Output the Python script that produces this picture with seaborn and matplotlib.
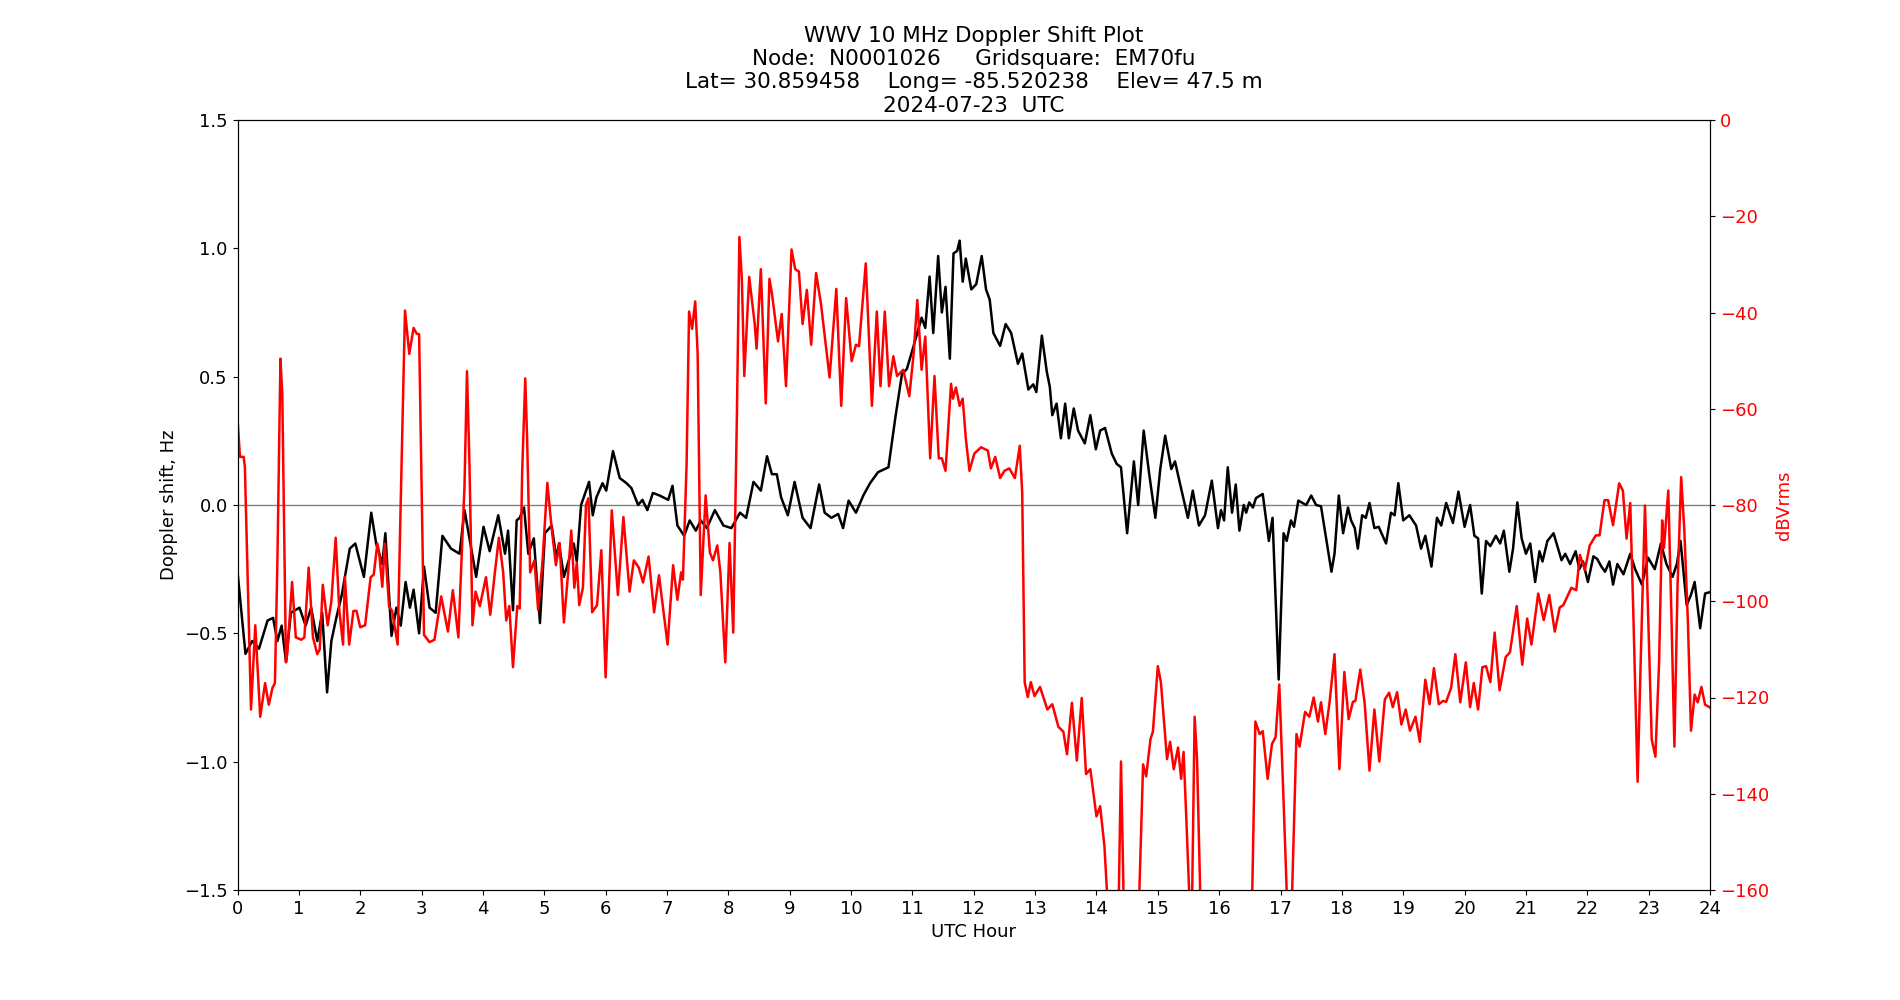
import matplotlib
matplotlib.use("Agg")
import matplotlib.pyplot as plt
import pandas as pd
import seaborn as sns

# ── data ──────────────────────────────────────────────────────────────────────
# Doppler shift (Hz) vs UTC hour
DOP_HOUR = [
    0.00, 0.13, 0.24, 0.35, 0.49, 0.58, 0.65, 0.72, 0.79, 0.87, 1.01, 1.11,
    1.20, 1.30, 1.38, 1.46, 1.53, 1.61, 1.70, 1.83, 1.92, 2.06, 2.18, 2.26,
    2.36, 2.41, 2.51, 2.59, 2.66, 2.74, 2.81, 2.87, 2.96, 3.04, 3.13, 3.23,
    3.34, 3.48, 3.62, 3.70, 3.89, 4.01, 4.11, 4.25, 4.36, 4.41, 4.49, 4.55,
    4.60, 4.67, 4.74, 4.83, 4.93, 5.01, 5.12, 5.20, 5.24, 5.32, 5.48, 5.53,
    5.60, 5.73, 5.79, 5.85, 5.95, 6.01, 6.12, 6.23, 6.34, 6.42, 6.53, 6.60,
    6.68, 6.77, 6.88, 7.02, 7.09, 7.17, 7.28, 7.37, 7.47, 7.55, 7.65, 7.78,
    7.92, 8.05, 8.19, 8.29, 8.41, 8.53, 8.63, 8.71, 8.79, 8.86, 8.97, 9.08,
    9.21, 9.34, 9.48, 9.57, 9.68, 9.79, 9.87, 9.96, 10.08, 10.20, 10.31,
    10.44, 10.61, 10.72, 10.83, 10.91, 11.02, 11.15, 11.21, 11.28, 11.34,
    11.42, 11.48, 11.54, 11.61, 11.67, 11.73, 11.77, 11.82, 11.87, 11.96,
    12.04, 12.13, 12.20, 12.26, 12.32, 12.43, 12.52, 12.61, 12.72, 12.79,
    12.89, 12.97, 13.02, 13.11, 13.19, 13.24, 13.28, 13.35, 13.42, 13.49,
    13.55, 13.63, 13.70, 13.81, 13.90, 13.99, 14.06, 14.14, 14.25, 14.33,
    14.40, 14.50, 14.61, 14.68, 14.77, 14.86, 14.96, 15.04, 15.12, 15.22,
    15.28, 15.36, 15.49, 15.57, 15.67, 15.77, 15.88, 15.98, 16.03, 16.08,
    16.14, 16.21, 16.27, 16.33, 16.40, 16.44, 16.49, 16.55, 16.60, 16.71,
    16.81, 16.87, 16.97, 17.05, 17.10, 17.17, 17.22, 17.29, 17.42, 17.50,
    17.58, 17.66, 17.73, 17.83, 17.88, 17.95, 18.02, 18.10, 18.15, 18.21,
    18.26, 18.33, 18.39, 18.45, 18.53, 18.60, 18.72, 18.80, 18.86, 18.92,
    19.00, 19.10, 19.21, 19.29, 19.36, 19.46, 19.55, 19.62, 19.70, 19.81,
    19.90, 20.00, 20.09, 20.16, 20.22, 20.28, 20.35, 20.42, 20.51, 20.58,
    20.64, 20.73, 20.79, 20.86, 20.93, 21.00, 21.07, 21.15, 21.22, 21.27,
    21.35, 21.45, 21.58, 21.64, 21.72, 21.81, 21.87, 21.93, 22.01, 22.10,
    22.16, 22.23, 22.29, 22.36, 22.42, 22.49, 22.59, 22.70, 22.78, 22.89,
    22.99, 23.10, 23.20, 23.29, 23.39, 23.46, 23.52, 23.62, 23.69, 23.75,
    23.84, 23.92, 23.99,
]
DOP_HZ = [
    -0.26, -0.58, -0.53, -0.56, -0.45, -0.44, -0.53, -0.47, -0.61, -0.42, -0.40, -0.47,
    -0.40, -0.53, -0.42, -0.73, -0.53, -0.44, -0.35, -0.17, -0.15, -0.28, -0.03, -0.15,
    -0.23, -0.11, -0.51, -0.40, -0.47, -0.30, -0.40, -0.33, -0.50, -0.24, -0.40, -0.42,
    -0.12, -0.17, -0.19, -0.02, -0.28, -0.085, -0.18, -0.04, -0.19, -0.10, -0.41, -0.06,
    -0.05, -0.01, -0.19, -0.13, -0.46, -0.11, -0.08, -0.21, -0.15, -0.28, -0.15, -0.22,
    0.00, 0.09, -0.04, 0.03, 0.085, 0.056, 0.21, 0.105, 0.085, 0.066, 0.00, 0.02,
    -0.02, 0.047, 0.037, 0.02, 0.075, -0.08, -0.12, -0.06, -0.10, -0.06, -0.09, -0.02,
    -0.08, -0.09, -0.03, -0.05, 0.09, 0.056, 0.19, 0.12, 0.12, 0.03, -0.04, 0.09,
    -0.05, -0.09, 0.08, -0.03, -0.05, -0.035, -0.09, 0.017, -0.03, 0.037, 0.085,
    0.128, 0.147, 0.337, 0.51, 0.53, 0.62, 0.73, 0.69, 0.89, 0.67,
    0.97, 0.75, 0.85, 0.57, 0.98, 0.99, 1.03, 0.87, 0.96, 0.84,
    0.86, 0.97, 0.84, 0.80, 0.67, 0.62, 0.705, 0.67, 0.55, 0.59,
    0.45, 0.47, 0.44, 0.66, 0.52, 0.46, 0.35, 0.395, 0.26, 0.395,
    0.26, 0.376, 0.29, 0.24, 0.35, 0.217, 0.29, 0.30, 0.20, 0.16,
    0.147, -0.11, 0.17, 0.00, 0.29, 0.12, -0.05, 0.14, 0.27, 0.14,
    0.17, 0.085, -0.05, 0.056, -0.08, -0.04, 0.095, -0.09, -0.02, -0.06,
    0.147, -0.03, 0.08, -0.10, 0.00, -0.03, 0.01, -0.01, 0.027, 0.043,
    -0.14, -0.05, -0.68, -0.11, -0.14, -0.06, -0.085, 0.017, 0.00, 0.037,
    0.00, -0.005, -0.11, -0.26, -0.19, 0.037, -0.11, -0.01, -0.06, -0.09,
    -0.17, -0.04, -0.05, 0.008, -0.09, -0.085, -0.15, -0.03, -0.04, 0.085,
    -0.06, -0.04, -0.08, -0.17, -0.12, -0.24, -0.05, -0.08, 0.008, -0.07,
    0.052, -0.085, 0.00, -0.12, -0.13, -0.345, -0.14, -0.16, -0.12, -0.15,
    -0.10, -0.26, -0.17, 0.01, -0.13, -0.19, -0.15, -0.30, -0.18, -0.22,
    -0.14, -0.11, -0.215, -0.19, -0.23, -0.18, -0.25, -0.22, -0.30, -0.20,
    -0.21, -0.24, -0.26, -0.22, -0.31, -0.23, -0.27, -0.19, -0.25, -0.31,
    -0.205, -0.25, -0.15, -0.23, -0.28, -0.23, -0.14, -0.39, -0.35, -0.30,
    -0.48, -0.345, -0.34,
]

# Received signal level (dBVrms) vs UTC hour; values below -160 run off the axis
PWR_HOUR = [
    0.00, 0.04, 0.10, 0.12, 0.16, 0.22, 0.29, 0.37, 0.45, 0.51, 0.57, 0.61,
    0.65, 0.70, 0.73, 0.79, 0.81, 0.89, 0.95, 1.04, 1.09, 1.16, 1.23, 1.30,
    1.34, 1.39, 1.47, 1.53, 1.60, 1.66, 1.72, 1.75, 1.82, 1.89, 1.94, 2.00,
    2.08, 2.17, 2.22, 2.28, 2.31, 2.36, 2.40, 2.47, 2.52, 2.61, 2.66, 2.73,
    2.80, 2.87, 2.92, 2.96, 3.02, 3.04, 3.13, 3.21, 3.32, 3.43, 3.51, 3.60,
    3.70, 3.74, 3.78, 3.83, 3.88, 3.95, 4.05, 4.12, 4.19, 4.26, 4.33, 4.38,
    4.43, 4.49, 4.56, 4.60, 4.64, 4.69, 4.72, 4.77, 4.84, 4.90, 4.97, 5.05,
    5.12, 5.19, 5.25, 5.32, 5.39, 5.44, 5.49, 5.53, 5.57, 5.63, 5.68, 5.72,
    5.78, 5.86, 5.93, 6.00, 6.10, 6.20, 6.29, 6.39, 6.46, 6.54, 6.61, 6.70,
    6.79, 6.87, 7.01, 7.10, 7.17, 7.23, 7.26, 7.32, 7.36, 7.41, 7.46, 7.50,
    7.55, 7.63, 7.70, 7.75, 7.82, 7.87, 7.95, 8.02, 8.08, 8.14, 8.18, 8.22,
    8.26, 8.34, 8.43, 8.46, 8.53, 8.61, 8.67, 8.71, 8.81, 8.87, 8.94, 9.03,
    9.09, 9.15, 9.21, 9.28, 9.35, 9.43, 9.51, 9.65, 9.76, 9.84, 9.92, 10.01,
    10.08, 10.13, 10.24, 10.34, 10.42, 10.48, 10.55, 10.62, 10.69, 10.75,
    10.85, 10.95, 11.02, 11.08, 11.15, 11.21, 11.29, 11.36, 11.43, 11.48,
    11.54, 11.63, 11.66, 11.71, 11.77, 11.82, 11.87, 11.93, 12.01, 12.12,
    12.23, 12.28, 12.35, 12.43, 12.50, 12.58, 12.67, 12.75, 12.79, 12.83,
    12.88, 12.93, 12.99, 13.08, 13.20, 13.28, 13.38, 13.46, 13.52, 13.60,
    13.68, 13.76, 13.83, 13.90, 14.00, 14.06, 14.13, 14.17, 14.22, 14.35,
    14.40, 14.44, 14.48, 14.65, 14.70, 14.76, 14.81, 14.88, 14.92, 15.00,
    15.05, 15.15, 15.20, 15.26, 15.33, 15.38, 15.42, 15.46, 15.51, 15.55,
    15.60, 15.64, 15.69, 15.74, 16.50, 16.54, 16.59, 16.66, 16.71, 16.79,
    16.86, 16.92, 16.98, 17.05, 17.10, 17.14, 17.19, 17.26, 17.31, 17.40,
    17.47, 17.54, 17.61, 17.66, 17.73, 17.80, 17.88, 17.96, 18.04, 18.11,
    18.18, 18.22, 18.30, 18.37, 18.45, 18.53, 18.61, 18.70, 18.77, 18.83,
    18.90, 18.97, 19.04, 19.11, 19.20, 19.27, 19.36, 19.43, 19.50, 19.58,
    19.65, 19.70, 19.78, 19.85, 19.93, 20.02, 20.09, 20.15, 20.22, 20.29,
    20.35, 20.42, 20.49, 20.57, 20.67, 20.74, 20.85, 20.94, 21.02, 21.09,
    21.20, 21.29, 21.38, 21.47, 21.55, 21.61, 21.74, 21.82, 21.88, 21.96,
    22.04, 22.14, 22.20, 22.28, 22.34, 22.42, 22.52, 22.58, 22.64, 22.70,
    22.75, 22.82, 22.87, 22.94, 22.99, 23.05, 23.11, 23.17, 23.22, 23.25,
    23.32, 23.37, 23.42, 23.47, 23.53, 23.58, 23.64, 23.69, 23.75, 23.80,
    23.86, 23.92, 23.99,
]
PWR_DB = [
    -62, -70, -70, -72, -92, -122.5, -105, -124, -117, -121.5, -118, -117,
    -92, -49.6, -57, -112.7, -111, -96, -107.5, -108, -107.5, -93, -107.5, -111,
    -110, -96.6, -105, -100, -86.8, -102, -109, -95, -109, -102, -102, -105.4,
    -105, -95, -94.5, -88, -90, -97, -88, -101, -102, -109, -79.6, -39.6,
    -48.6, -43.2, -44.4, -44.5, -92, -107, -108.5, -108, -99, -106.3, -97.7, -107.5,
    -76, -52.2, -71, -105, -98, -101, -95, -102.8, -94.6, -86.8, -94, -104,
    -101, -113.7, -101, -101.5, -73, -53.7, -66, -94, -91.5, -101.8, -92, -75.4,
    -84.8, -92.5, -87.9, -104.4, -94, -85.3, -97.2, -92, -100.8, -97.2, -80, -78.6,
    -102.3, -100.8, -89.4, -115.8, -81.1, -98.7, -82.5, -98, -91.5, -93, -96.1, -90.7,
    -102.3, -94.6, -109, -92.5, -99.7, -94, -95.5, -71.3, -39.8, -43.4, -37.7, -48.6,
    -98.7, -78, -89.9, -91.5, -88.4, -94, -112.7, -87.9, -106.5, -61, -24.3, -33,
    -53.2, -32.6, -42.4, -47.5, -31, -58.9, -33, -36, -46, -40.3, -55.3, -26.9,
    -31, -31.5, -42.4, -35.3, -46.7, -31.8, -38.2, -53.5, -35.1, -59.4, -37, -50.1,
    -46.7, -47, -29.8, -59.4, -39.8, -55.3, -39.8, -55.3, -49.1, -53.2,
    -51.9, -57.4, -48.6, -37.4, -51.9, -45, -70.3, -53.2, -70.3, -70.3,
    -72.9, -54.8, -57.9, -55.6, -59.4, -57.9, -66.1, -72.9, -69.3, -68,
    -68.7, -72.4, -70, -74.4, -72.9, -72.4, -74.4, -67.7, -77.5, -116.8,
    -119.9, -116.8, -119.7, -117.8, -122.5, -121.4, -126.1, -127.1, -131.8, -121.1,
    -133.1, -120.1, -135.9, -134.9, -144.7, -142.6, -150.9, -160, -172, -172,
    -133.3, -160, -172, -172, -160, -133.9, -136.4, -128.7, -127.1, -113.5,
    -116.8, -132.8, -129.2, -134.9, -130.4, -136.9, -131.3, -143.7, -160, -170,
    -124, -133, -160, -172, -172, -160, -125, -127.6, -127, -136.9,
    -129.7, -128.2, -117.3, -141.6, -160, -172, -160, -127.6, -130.2, -123,
    -124, -120, -125, -121, -127.6, -120.9, -111, -134.9, -114.7, -124.5,
    -120.9, -120.7, -114.2, -121, -135.2, -122.5, -133.3, -120.4, -119, -122,
    -118.9, -125.6, -122.5, -126.9, -124, -129.2, -116.3, -121.4, -113.9, -121.4,
    -120.7, -120.9, -118, -111, -121, -112.7, -122, -117, -122.5, -113.7,
    -113.5, -116.8, -106.5, -118.5, -111.6, -110.6, -101, -113.2, -103.6, -109,
    -98.4, -103.9, -98.7, -106.3, -101.3, -100.8, -97.2, -97.7, -90.4, -93.5,
    -88.4, -86.3, -86.3, -79, -79, -84.2, -75.5, -77, -87, -79.6,
    -102.3, -137.5, -112.7, -80.1, -102.3, -128.7, -132.3, -112.7, -83.2, -88.9,
    -77, -102.3, -130.2, -97.2, -74.2, -84.8, -104.4, -126.9, -119.4, -121,
    -117.8, -121.5, -122,
]

HOUR_TICKS = list(range(0, 25))
TITLE = ("WWV 10 MHz Doppler Shift Plot\n"
         "Node:  N0001026     Gridsquare:  EM70fu\n"
         "Lat= 30.859458    Long= -85.520238    Elev= 47.5 m\n"
         "2024-07-23  UTC")

dop = pd.DataFrame({"hour": DOP_HOUR, "shift": DOP_HZ})
pwr = pd.DataFrame({"hour": PWR_HOUR, "db": PWR_DB})

fig = plt.figure(figsize=(19, 10), dpi=100)
ax = fig.add_subplot(111)

ax.axhline(0, color="grey", linewidth=1)
sns.lineplot(data=dop, x="hour", y="shift", ax=ax, color="black",
             linewidth=1.8, estimator=None, sort=False)
ax.set_xlim(0, 24)
ax.set_ylim(-1.5, 1.5)
ax.set_xticks(HOUR_TICKS)
ax.set_xlabel("UTC Hour", fontsize=13)
ax.set_ylabel("Doppler shift, Hz", fontsize=13)
ax.tick_params(axis="both", labelsize=13)
ax.set_title(TITLE, fontsize=15.5)

ax2 = ax.twinx()
sns.lineplot(data=pwr, x="hour", y="db", ax=ax2, color="red",
             linewidth=1.8, estimator=None, sort=False)
ax2.set_ylim(-160, 0)
ax2.set_xlim(0, 24)
ax2.set_ylabel("dBVrms", color="red", fontsize=13)
ax2.tick_params(axis="y", labelcolor="red", labelsize=13)

fig.savefig("out.png", dpi=100)
